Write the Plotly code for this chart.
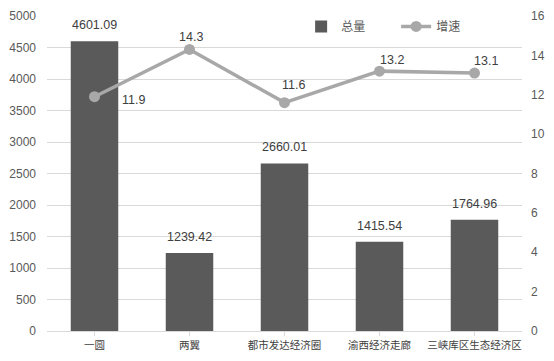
import plotly.graph_objects as go

categories = ["一圆", "两翼", "都市发达经济圈", "渝西经济走廊", "三峡库区生态经济区"]
totals = [4601.09, 1239.42, 2660.01, 1415.54, 1764.96]
growth = [11.9, 14.3, 11.6, 13.2, 13.1]

# label offsets (pixels) for growth labels, style only
growth_label_shift = [(39, -3), (1, 12), (9, 18), (12, 11), (11, 12)]

FONT = "Liberation Sans, Arial, Noto Sans CJK SC, sans-serif"
CJK = "Noto Sans CJK SC, sans-serif"

fig = go.Figure()
fig.add_trace(go.Bar(
    x=categories, y=totals, name="总量",
    marker=dict(color="#5a5a5a", line=dict(width=0)),
    width=0.5,
))
fig.add_trace(go.Scatter(
    x=categories, y=growth, name="增速", yaxis="y2",
    mode="lines+markers",
    line=dict(color="#a8a8a8", width=3.5),
    marker=dict(color="#a8a8a8", size=11),
    cliponaxis=False,
))

annotations = []
for c, v in zip(categories, totals):
    annotations.append(dict(x=c, y=v, xref="x", yref="y", text=f"{v:.2f}",
                            showarrow=False, yanchor="bottom", yshift=7,
                            font=dict(family=FONT, size=12.5, color="#404040")))
for c, v, (dx, dy) in zip(categories, growth, growth_label_shift):
    annotations.append(dict(x=c, y=v, xref="x", yref="y2", text=str(v),
                            showarrow=False, xshift=dx, yshift=dy,
                            font=dict(family=FONT, size=12.5, color="#404040")))

fig.update_layout(
    width=554, height=361,
    margin=dict(l=42, r=29, t=9, b=23),
    plot_bgcolor="white", paper_bgcolor="white",
    font=dict(family=FONT, size=12, color="#595959"),
    showlegend=True,
    legend=dict(orientation="h", x=0.535, y=0.967, xanchor="left", yanchor="middle",
                bgcolor="rgba(0,0,0,0)", font=dict(family=CJK, size=12, color="#595959"),
                itemwidth=30, entrywidth=50, tracegroupgap=0),
    annotations=annotations,
    xaxis=dict(showgrid=False, showline=True, linecolor="#d9d9d9", ticks="outside",
               tickcolor="#d9d9d9", ticklen=4,
               tickfont=dict(family=CJK, size=10.5, color="#404040")),
    yaxis=dict(range=[0, 5000], dtick=500, showgrid=True, gridcolor="#d9d9d9",
               zeroline=False, showline=False, ticks="",
               tickfont=dict(size=12, color="#595959"), ticklabelstandoff=10),
    yaxis2=dict(range=[0, 16], dtick=2, overlaying="y", side="right", showgrid=False,
                zeroline=False, showline=False, tickfont=dict(size=12, color="#595959"),
                ticklabelstandoff=8),
)

fig.write_html("out.html")
